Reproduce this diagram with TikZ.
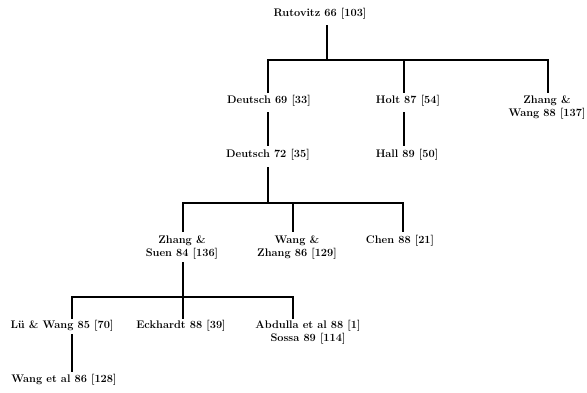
\documentclass[tikz,border=0pt]{standalone}
\begin{document}
\begin{tikzpicture}[x=1pt,y=-1pt,
  lbl/.style={inner sep=0pt,align=center,font=\fontsize{11}{13}\selectfont\bfseries},
  conn/.style={line width=1.1pt}]
\useasboundingbox (0,0) rectangle (587,392);
% nodes
\node[lbl] (rut) at (320,14) {Rutovitz 66 [103]};
\node[lbl] (d69) at (269,101) {Deutsch 69 [33]};
\node[lbl] (holt) at (408,101) {Holt 87 [54]};
\node[lbl] (zw) at (547,107) {Zhang \&\\Wang 88 [137]};
\node[lbl] (d72) at (268,155) {Deutsch 72 [35]};
\node[lbl] (hall) at (407,155) {Hall 89 [50]};
\node[lbl] (zs) at (182,247) {Zhang \&\\Suen 84 [136]};
\node[lbl] (wz) at (297,247) {Wang \&\\Zhang 86 [129]};
\node[lbl] (chen) at (400,241) {Chen 88 [21]};
\node[lbl] (lw) at (62,326) {L\"u \& Wang 85 [70]};
\node[lbl] (eck) at (181,326) {Eckhardt 88 [39]};
\node[lbl] (abd) at (308,332) {Abdulla et al 88 [1]\\Sossa 89 [114]};
\node[lbl] (wal) at (64,380) {Wang et al 86 [128]};
% connector end points
\coordinate (rt) at (327,25);
\coordinate (rb) at (327,60);
\coordinate (d69t) at (268,93);
\coordinate (holtt) at (404,93);
\coordinate (zwt) at (548,93);
\coordinate (d69b) at (268,112);
\coordinate (d72t) at (268,146);
\coordinate (holtb) at (404,112);
\coordinate (hallt) at (404,146);
\coordinate (d72b) at (268,167);
\coordinate (b2) at (268,203);
\coordinate (zst) at (183,232);
\coordinate (wzt) at (293,232);
\coordinate (chent) at (403,232);
\coordinate (zsb) at (183,262);
\coordinate (b3) at (183,297);
\coordinate (lwt) at (72,319);
\coordinate (eckt) at (183,319);
\coordinate (abdt) at (293,319);
\coordinate (lwb) at (72,334);
\coordinate (walt) at (72,372);
% connectors
\draw[conn] (rt) -- (rb);
\draw[conn] (d69t) |- (rb) -| (zwt);
\draw[conn] (rb) -| (holtt);
\draw[conn] (d69b) -- (d72t);
\draw[conn] (holtb) -- (hallt);
\draw[conn] (d72b) -- (b2);
\draw[conn] (zst) |- (b2) -| (chent);
\draw[conn] (b2) -| (wzt);
\draw[conn] (zsb) -- (b3);
\draw[conn] (lwt) |- (b3) -| (abdt);
\draw[conn] (b3) -- (eckt);
\draw[conn] (lwb) -- (walt);
\end{tikzpicture}
\end{document}
